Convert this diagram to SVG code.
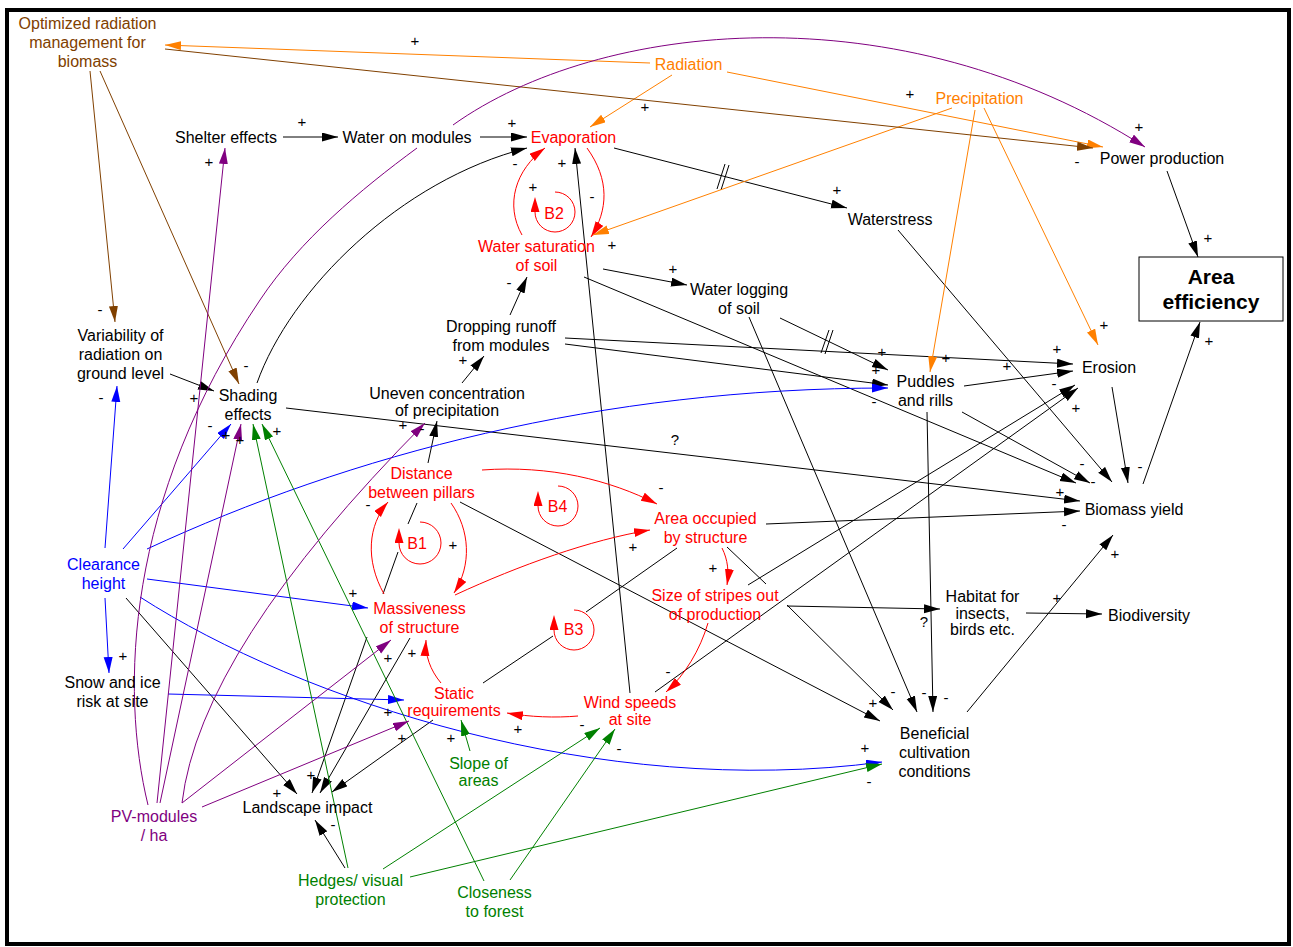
<svg xmlns="http://www.w3.org/2000/svg" width="1293" height="947" viewBox="0 0 1293 947">
<style>
.t{font-family:"Liberation Sans",Arial,Helvetica,sans-serif;font-size:16px;text-anchor:middle;fill:#000}
.p{font-family:"Liberation Sans",Arial,Helvetica,sans-serif;font-size:15px;text-anchor:middle;fill:#000}
.red{fill:#FF0000}.org{fill:#FF8000}.blu{fill:#0000FF}.grn{fill:#008000}.pur{fill:#800080}.brn{fill:#804000}
.l{fill:none;stroke-width:1}
.k{stroke:#000;marker-end:url(#mk)}
.kn{stroke:#000}
.r{stroke:#FF0000;marker-end:url(#mr)}
.rl{stroke:#FF0000;marker-end:url(#mrl)}
.o{stroke:#FF8000;marker-end:url(#mo)}
.b{stroke:#0000FF;marker-end:url(#mb)}
.g{stroke:#008000;marker-end:url(#mg)}
.v{stroke:#800080;marker-end:url(#mv)}
.n{stroke:#804000;marker-end:url(#mn)}
</style>
<defs>
<marker id="mk" markerWidth="17" markerHeight="10" refX="16" refY="4.5" orient="auto" markerUnits="userSpaceOnUse"><path d="M0,0 L16,4.5 L0,9 z" fill="#000"/></marker>
<marker id="mr" markerWidth="17" markerHeight="10" refX="16" refY="4.5" orient="auto" markerUnits="userSpaceOnUse"><path d="M0,0 L16,4.5 L0,9 z" fill="#FF0000"/></marker>
<marker id="mrl" markerWidth="17" markerHeight="10" refX="0" refY="4.5" orient="auto" markerUnits="userSpaceOnUse"><path d="M0,0 L15,4.5 L0,9 z" fill="#FF0000"/></marker>
<marker id="mo" markerWidth="17" markerHeight="10" refX="16" refY="4.5" orient="auto" markerUnits="userSpaceOnUse"><path d="M0,0 L16,4.5 L0,9 z" fill="#FF8000"/></marker>
<marker id="mb" markerWidth="17" markerHeight="10" refX="16" refY="4.5" orient="auto" markerUnits="userSpaceOnUse"><path d="M0,0 L16,4.5 L0,9 z" fill="#0000FF"/></marker>
<marker id="mg" markerWidth="17" markerHeight="10" refX="16" refY="4.5" orient="auto" markerUnits="userSpaceOnUse"><path d="M0,0 L16,4.5 L0,9 z" fill="#008000"/></marker>
<marker id="mv" markerWidth="17" markerHeight="10" refX="16" refY="4.5" orient="auto" markerUnits="userSpaceOnUse"><path d="M0,0 L16,4.5 L0,9 z" fill="#800080"/></marker>
<marker id="mn" markerWidth="17" markerHeight="10" refX="16" refY="4.5" orient="auto" markerUnits="userSpaceOnUse"><path d="M0,0 L16,4.5 L0,9 z" fill="#804000"/></marker>
</defs>
<rect x="0" y="0" width="1293" height="947" fill="#fff"/>
<rect x="7" y="10" width="1282" height="934" fill="none" stroke="#000" stroke-width="4"/>

<g id="connectors">
<path class="l k" d="M283,137 L338,137"/>
<path class="l k" d="M480,137 L527,137"/>
<path class="l k" d="M257,383 C290,290 400,180 527,148"/>
<path class="l k" d="M614,148 L847,208"/>
<path class="l k" d="M898,230 L1112,482"/>
<path class="l k" d="M603,269 L687,285"/>
<path class="l k" d="M584,277 L1076,483"/>
<path class="l k" d="M510,315 L527,277"/>
<path class="l k" d="M462,383 L484,356"/>
<path class="l k" d="M428,463 L437,421"/>
<path class="l k" d="M565,338 L1073,364"/>
<path class="l k" d="M565,344 L888,385"/>
<path class="l k" d="M780,318 L888,370"/>
<path class="l k" d="M749,317 L917,712"/>
<path class="l k" d="M964,386 L1073,371"/>
<path class="l k" d="M962,412 L1090,483"/>
<path class="l k" d="M927,412 L933,712"/>
<path class="l k" d="M1112,387 L1128,483"/>
<path class="l k" d="M1143,484 L1200,322"/>
<path class="l k" d="M1167,171 L1198,257"/>
<path class="l k" d="M170,374 L214,391"/>
<path class="l k" d="M286,408 L1080,501"/>
<path class="l k" d="M766,524 L1080,511"/>
<path class="l k" d="M967,712 L1113,535"/>
<path class="l k" d="M787,606 L940,609"/>
<path class="l k" d="M1026,613 L1102,614"/>
<path class="l k" d="M727,547 L766,584 M787,605 L893,710"/>
<path class="l k" d="M460,502 L880,721"/>
<path class="l k" d="M748,585 L1075,385"/>
<path class="l k" d="M655,692 L1078,388"/>
<path class="l k" d="M630,693 L575,148"/>
<path class="l k" d="M417,503 L408,524 M398,552 L383,594 M367,637 L312,793"/>
<path class="l k" d="M410,638 L320,793"/>
<path class="l k" d="M433,720 L332,792"/>
<path class="l k" d="M126,598 L297,794"/>
<path class="l k" d="M345,868 L315,820"/>
<path class="l kn" d="M483,683 L553,636 M586,612 L677,548"/>
<path class="l kn" d="M717,189 L725,164 M721,190 L729,165"/>
<path class="l kn" d="M821,353 L829,330 M825,354 L833,330"/>
<path class="l r" d="M587,148 C610,180 608,210 591,237"/>
<path class="l r" d="M522,235 C505,205 515,170 545,148"/>
<path class="l r" d="M384,594 C365,560 368,525 388,502"/>
<path class="l r" d="M451,503 C470,530 472,565 454,593"/>
<path class="l r" d="M455,595 C520,565 590,540 650,530"/>
<path class="l r" d="M482,470 C550,465 610,480 657,504"/>
<path class="l r" d="M722,548 C728,560 729,572 727,585"/>
<path class="l r" d="M708,623 C700,650 685,675 666,692"/>
<path class="l r" d="M578,716 C555,718 530,717 507,713"/>
<path class="l r" d="M441,683 C430,670 425,655 426,640"/>
<path class="l o" d="M650,63 L165,45"/>
<path class="l o" d="M672,75 L590,127"/>
<path class="l o" d="M727,72 L1103,147"/>
<path class="l o" d="M952,108 L593,235"/>
<path class="l o" d="M975,110 L930,372"/>
<path class="l o" d="M984,108 L1098,345"/>
<path class="l n" d="M165,49 L1093,148"/>
<path class="l n" d="M90,71 L115,322"/>
<path class="l n" d="M100,71 L239,384"/>
<path class="l b" d="M105,548 L117,386"/>
<path class="l b" d="M123,549 L231,424"/>
<path class="l b" d="M147,549 C350,455 600,388 888,388"/>
<path class="l b" d="M147,579 L368,608"/>
<path class="l b" d="M140,597 C300,700 600,800 882,762"/>
<path class="l b" d="M105,598 L109,673"/>
<path class="l b" d="M168,694 L404,700"/>
<path class="l g" d="M470,751 L461,720"/>
<path class="l g" d="M383,869 L600,728"/>
<path class="l g" d="M410,877 L882,764"/>
<path class="l g" d="M348,868 L253,424"/>
<path class="l g" d="M484,881 L262,424"/>
<path class="l g" d="M510,880 L615,729"/>
<path class="l v" d="M157,803 L225,148"/>
<path class="l v" d="M160,803 L241,424"/>
<path class="l v" d="M182,803 Q200,650 425,423"/>
<path class="l v" d="M182,803 L391,640"/>
<path class="l v" d="M202,807 L409,721"/>
<path class="l v" d="M148,805 C120,690 125,500 260,300 C300,240 360,190 417,148 M453,125 C600,20 900,-10 1145,147"/>
</g>

<g id="polarities">
<text class="p" x="415" y="46">+</text>
<text class="p" x="645" y="112">+</text>
<text class="p" x="302" y="127">+</text>
<text class="p" x="209" y="167">+</text>
<text class="p" x="512" y="128">+</text>
<text class="p" x="515" y="169">-</text>
<text class="p" x="562" y="168">+</text>
<text class="p" x="533" y="192">+</text>
<text class="p" x="592" y="202">-</text>
<text class="p" x="612" y="250">+</text>
<text class="p" x="837" y="195">+</text>
<text class="p" x="910" y="99">+</text>
<text class="p" x="1139" y="132">+</text>
<text class="p" x="1077" y="167">-</text>
<text class="p" x="1208" y="243">+</text>
<text class="p" x="100" y="315">-</text>
<text class="p" x="246" y="371">-</text>
<text class="p" x="673" y="274">+</text>
<text class="p" x="509" y="288">-</text>
<text class="p" x="463" y="365">+</text>
<text class="p" x="194" y="403">+</text>
<text class="p" x="101" y="403">-</text>
<text class="p" x="210" y="431">-</text>
<text class="p" x="226" y="440">+</text>
<text class="p" x="240" y="445">+</text>
<text class="p" x="277" y="436">+</text>
<text class="p" x="403" y="430">+</text>
<text class="p" x="422" y="434">-</text>
<text class="p" x="1104" y="330">+</text>
<text class="p" x="1209" y="346">+</text>
<text class="p" x="1057" y="354">+</text>
<text class="p" x="882" y="357">+</text>
<text class="p" x="946" y="363">+</text>
<text class="p" x="1007" y="371">+</text>
<text class="p" x="876" y="375">+</text>
<text class="p" x="874" y="407">-</text>
<text class="p" x="1054" y="389">-</text>
<text class="p" x="1076" y="413">+</text>
<text class="p" x="675" y="445">?</text>
<text class="p" x="1082" y="469">-</text>
<text class="p" x="1093" y="487">-</text>
<text class="p" x="1140" y="472">-</text>
<text class="p" x="1060" y="497">+</text>
<text class="p" x="1064" y="530">-</text>
<text class="p" x="1115" y="559">+</text>
<text class="p" x="368" y="510">-</text>
<text class="p" x="453" y="550">+</text>
<text class="p" x="661" y="493">-</text>
<text class="p" x="633" y="552">+</text>
<text class="p" x="713" y="573">+</text>
<text class="p" x="353" y="598">+</text>
<text class="p" x="1057" y="603">+</text>
<text class="p" x="924" y="627">?</text>
<text class="p" x="668" y="677">-</text>
<text class="p" x="123" y="661">+</text>
<text class="p" x="388" y="663">+</text>
<text class="p" x="412" y="658">+</text>
<text class="p" x="873" y="708">+</text>
<text class="p" x="893" y="697">-</text>
<text class="p" x="924" y="698">-</text>
<text class="p" x="946" y="703">-</text>
<text class="p" x="388" y="717">+</text>
<text class="p" x="518" y="734">+</text>
<text class="p" x="582" y="730">-</text>
<text class="p" x="451" y="743">+</text>
<text class="p" x="402" y="743">+</text>
<text class="p" x="619" y="754">-</text>
<text class="p" x="865" y="753">+</text>
<text class="p" x="869" y="787">-</text>
<text class="p" x="311" y="780">+</text>
<text class="p" x="277" y="798">+</text>
<text class="p" x="333" y="830">-</text>
</g>

<g id="loop-B1"><path class="l rl" d="M420,522 A21,21 0 1 1 399,543"/><text class="t red" x="417" y="548.5">B1</text></g>
<g id="loop-B2"><path class="l rl" d="M555,192 A20,20 0 1 1 535,212"/><text class="t red" x="554" y="218.5">B2</text></g>
<g id="loop-B3"><path class="l rl" d="M574,610 A20,20 0 1 1 554,630"/><text class="t red" x="573.5" y="634.5">B3</text></g>
<g id="loop-B4"><path class="l rl" d="M558,486 A20,20 0 1 1 538,506"/><text class="t red" x="557.5" y="511.5">B4</text></g>

<g id="optimized-radiation"><text class="t brn"><tspan x="87.5" y="28.5">Optimized radiation</tspan><tspan x="87.5" y="47.5">management for</tspan><tspan x="87.5" y="66.5">biomass</tspan></text></g>
<g id="radiation"><text class="t org" x="688.5" y="69.5">Radiation</text></g>
<g id="precipitation"><text class="t org" x="979.5" y="103.5">Precipitation</text></g>
<g id="power-production"><text class="t" x="1162" y="163.5">Power production</text></g>
<g id="area-efficiency"><rect x="1139" y="257" width="144" height="64" fill="#fff" stroke="#000" stroke-width="1"/><text class="t" style="font-size:21px;font-weight:bold"><tspan x="1211" y="283.5">Area</tspan><tspan x="1211" y="309">efficiency</tspan></text></g>
<g id="shelter-effects"><text class="t" x="226" y="143">Shelter effects</text></g>
<g id="water-on-modules"><text class="t" x="407" y="143">Water on modules</text></g>
<g id="evaporation"><text class="t red" x="573.5" y="142.5">Evaporation</text></g>
<g id="waterstress"><text class="t" x="890" y="224.5">Waterstress</text></g>
<g id="water-saturation"><text class="t red"><tspan x="536.5" y="251.5">Water saturation</tspan><tspan x="536.5" y="270.5">of soil</tspan></text></g>
<g id="water-logging"><text class="t"><tspan x="739" y="294.5">Water logging</tspan><tspan x="739" y="313.5">of soil</tspan></text></g>
<g id="dropping-runoff"><text class="t"><tspan x="501" y="331.5">Dropping runoff</tspan><tspan x="501" y="350.5">from modules</tspan></text></g>
<g id="variability"><text class="t"><tspan x="120.5" y="340.5">Variability of</tspan><tspan x="120.5" y="359.5">radiation on</tspan><tspan x="120.5" y="378.5">ground level</tspan></text></g>
<g id="shading-effects"><text class="t"><tspan x="248" y="400.5">Shading</tspan><tspan x="248" y="419.5">effects</tspan></text></g>
<g id="uneven-concentration"><text class="t"><tspan x="447" y="398.5">Uneven concentration</tspan><tspan x="447" y="415.5">of precipitation</tspan></text></g>
<g id="erosion"><text class="t" x="1109" y="372.5">Erosion</text></g>
<g id="puddles"><text class="t"><tspan x="925.5" y="386.5">Puddles</tspan><tspan x="925.5" y="405.5">and rills</tspan></text></g>
<g id="distance-pillars"><text class="t red"><tspan x="421.5" y="478.5">Distance</tspan><tspan x="421.5" y="497.5">between pillars</tspan></text></g>
<g id="area-occupied"><text class="t red"><tspan x="705.5" y="523.5">Area occupied</tspan><tspan x="705.5" y="542.5">by structure</tspan></text></g>
<g id="biomass-yield"><text class="t" x="1134" y="514.5">Biomass yield</text></g>
<g id="clearance-height"><text class="t blu"><tspan x="103.5" y="569.5">Clearance</tspan><tspan x="103.5" y="588.5">height</tspan></text></g>
<g id="massiveness"><text class="t red"><tspan x="419.5" y="613.5">Massiveness</tspan><tspan x="419.5" y="632.5">of structure</tspan></text></g>
<g id="size-of-stripes"><text class="t red"><tspan x="715" y="600.5">Size of stripes out</tspan><tspan x="715" y="619.5">of production</tspan></text></g>
<g id="habitat"><text class="t"><tspan x="982.5" y="602">Habitat for</tspan><tspan x="982.5" y="618.5">insects,</tspan><tspan x="982.5" y="635">birds etc.</tspan></text></g>
<g id="biodiversity"><text class="t" x="1149" y="620.5">Biodiversity</text></g>
<g id="snow-ice"><text class="t"><tspan x="112.5" y="688">Snow and ice</tspan><tspan x="112.5" y="707">risk at site</tspan></text></g>
<g id="static-requirements"><text class="t red"><tspan x="454" y="698.5">Static</tspan><tspan x="454" y="715.5">requirements</tspan></text></g>
<g id="wind-speeds"><text class="t red"><tspan x="630" y="707.5">Wind speeds</tspan><tspan x="630" y="724.5">at site</tspan></text></g>
<g id="slope-of-areas"><text class="t grn"><tspan x="478.5" y="768.5">Slope of</tspan><tspan x="478.5" y="786">areas</tspan></text></g>
<g id="beneficial-cultivation"><text class="t"><tspan x="934.5" y="738.5">Beneficial</tspan><tspan x="934.5" y="757.5">cultivation</tspan><tspan x="934.5" y="776.5">conditions</tspan></text></g>
<g id="pv-modules"><text class="t pur"><tspan x="154" y="821.5">PV-modules</tspan><tspan x="154" y="840.5">/ ha</tspan></text></g>
<g id="landscape-impact"><text class="t" x="307.5" y="812.5">Landscape impact</text></g>
<g id="hedges"><text class="t grn"><tspan x="350.5" y="885.5">Hedges/ visual</tspan><tspan x="350.5" y="904.5">protection</tspan></text></g>
<g id="closeness-forest"><text class="t grn"><tspan x="494.5" y="897.5">Closeness</tspan><tspan x="494.5" y="916.5">to forest</tspan></text></g>
</svg>
